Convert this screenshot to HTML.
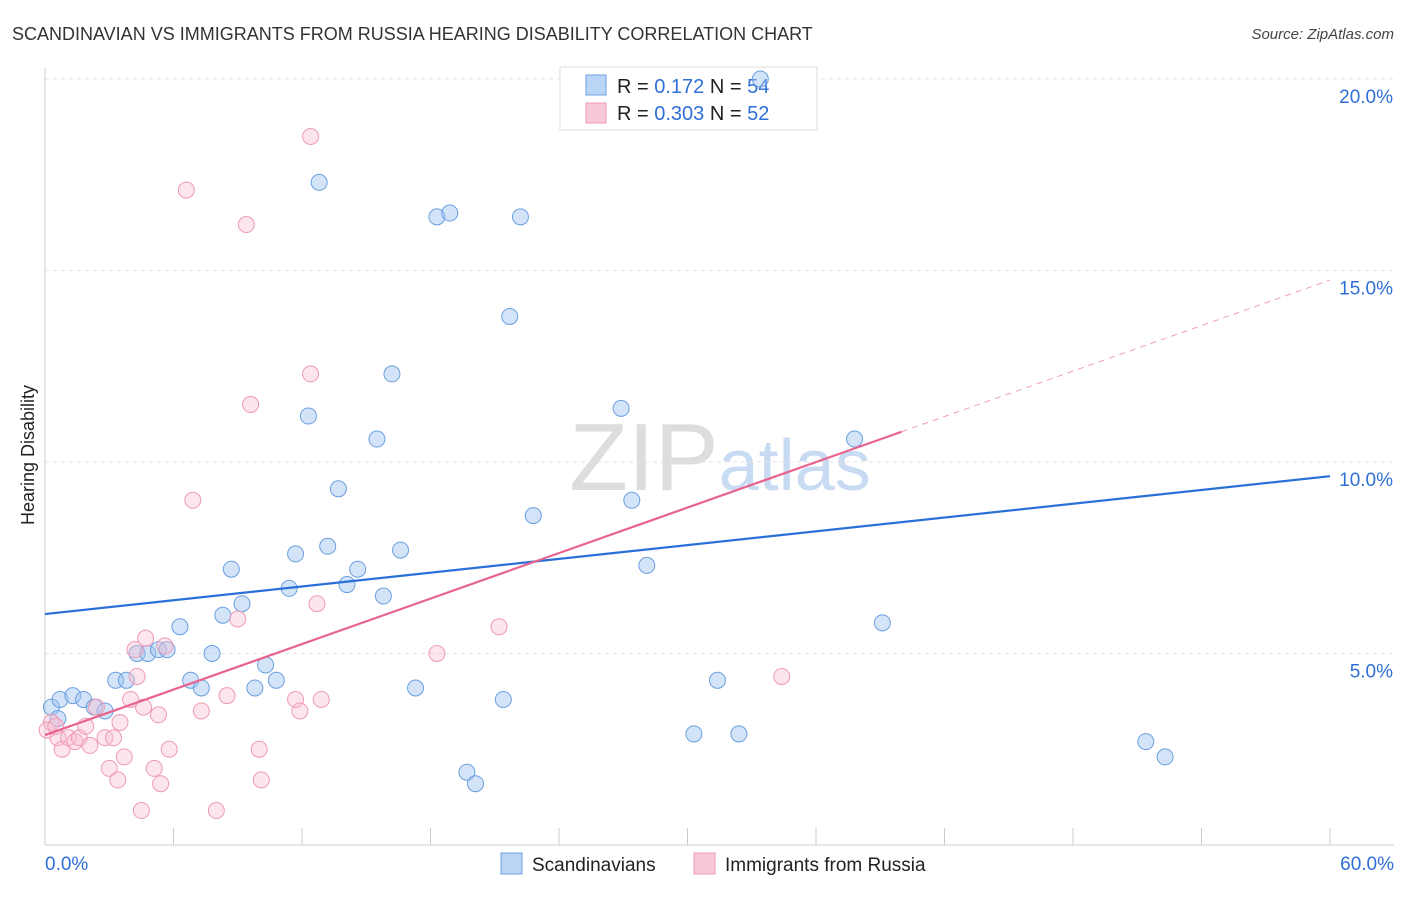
<!DOCTYPE html>
<html><head><meta charset="utf-8"><style>
body{margin:0;background:#fff;font-family:"Liberation Sans",sans-serif}
svg text{font-family:"Liberation Sans",sans-serif}
</style></head><body>
<svg id="c" width="1406" height="892" xmlns="http://www.w3.org/2000/svg">
<text x="12" y="40" font-size="18" fill="#333">SCANDINAVIAN VS IMMIGRANTS FROM RUSSIA HEARING DISABILITY CORRELATION CHART</text>
<text x="1394" y="39" font-size="15" fill="#444" text-anchor="end" font-style="italic">Source: ZipAtlas.com</text>
<text x="720" y="490" font-size="96" fill="#ddd" text-anchor="middle" font-family="Liberation Serif">ZIP<tspan fill="#c9dbf2" font-family="Liberation Sans" font-size="72">atlas</tspan></text>
<text transform="translate(34,455) rotate(-90)" font-size="18" fill="#222" text-anchor="middle">Hearing Disability</text>
<g id="grid"></g>
<g>
<rect x="560" y="67" width="257" height="63" fill="#fff" stroke="#ddd"/>
<rect x="586" y="75" width="20" height="20" fill="#b9d4f5" stroke="#6a9fe0"/>
<rect x="586" y="103" width="20" height="20" fill="#f9c8d8" stroke="#ee9ab5"/>
<text x="617" y="93" font-size="20" fill="#222">R = <tspan fill="#2f6fd6"> 0.172</tspan>   N = <tspan fill="#2f6fd6">54</tspan></text>
<text x="617" y="120" font-size="20" fill="#222">R = <tspan fill="#2f6fd6">0.303</tspan>   N = <tspan fill="#2f6fd6">52</tspan></text>
</g>
<g id="marks"></g>
<g>
<rect x="501" y="853" width="21" height="21" fill="#b9d4f5" stroke="#6a9fe0"/>
<text x="532" y="871" font-size="19" fill="#222">Scandinavians</text>
<rect x="694" y="853" width="21" height="21" fill="#f9c8d8" stroke="#ee9ab5"/>
<text x="725" y="871" font-size="19" fill="#222">Immigrants from Russia</text>
</g>
</svg>
<script>
const xTicks=[0,60];
const yTicks=[5,10,15,20];
const blueX=[0.3,0.7,1.3,1.8,0.6,2.3,2.8,3.3,3.8,4.3,4.8,5.3,5.7,6.3,6.8,7.3,7.8,8.3,8.7,9.2,9.8,10.3,10.8,11.4,11.7,12.3,12.8,13.2,13.7,14.1,14.6,15.5,15.8,16.2,16.6,17.3,18.3,18.9,19.7,20.1,21.4,21.7,22.2,22.8,26.9,27.4,28.1,30.3,31.4,32.4,33.4,37.8,39.1,51.4,52.3];
const blueY=[3.6,3.8,3.9,3.8,3.3,3.6,3.5,4.3,4.3,5.0,5.0,5.1,5.1,5.7,4.3,4.1,5.0,6.0,7.2,6.3,4.1,4.7,4.3,6.7,7.6,11.2,17.3,7.8,9.3,6.8,7.2,10.6,6.5,12.3,7.7,4.1,16.4,16.5,1.9,1.6,3.8,13.8,16.4,8.6,11.4,9.0,7.3,2.9,4.3,2.9,20.0,10.6,5.8,2.7,2.3];
const pinkX=[0.3,0.6,0.8,1.1,1.4,1.6,1.9,2.1,2.4,2.8,3.0,3.2,3.4,3.5,3.7,4.0,4.2,4.3,4.5,4.6,4.7,5.1,5.3,5.4,5.6,5.8,6.6,6.9,7.3,8.0,8.5,9.0,9.4,9.6,10.0,10.1,11.7,11.9,12.4,12.4,12.7,12.9,18.3,21.2,34.4,0.1,0.5];
const pinkY=[3.2,2.8,2.5,2.8,2.7,2.8,3.1,2.6,3.6,2.8,2.0,2.8,1.7,3.2,2.3,3.8,5.1,4.4,0.9,3.6,5.4,2.0,3.4,1.6,5.2,2.5,17.1,9.0,3.5,0.9,3.9,5.9,16.2,11.5,2.5,1.7,3.8,3.5,18.5,12.3,6.3,3.8,5.0,5.7,4.4,3.0,3.1];
const blueFit=[6.03,9.63];
const pinkFit=[2.87,14.75];
const X=v=>45+v*(1285/60), Y=v=>845-v*38.3;
const NS="http://www.w3.org/2000/svg";
function mk(p,t,a){const e=document.createElementNS(NS,t);for(const k in a)e.setAttribute(k,a[k]);p.appendChild(e);return e;}
const g=document.getElementById('grid'),m=document.getElementById('marks');
yTicks.forEach(v=>{const l=mk(g,'line',{x1:45,x2:1394,y1:Y(v),y2:Y(v),stroke:'#e3e3e3','stroke-dasharray':'4,4'});


const t=mk(g,'text',{x:1393,y:Y(v)+24,'font-size':19,fill:'#2f6fd6','text-anchor':'end'});t.textContent=v.toFixed(1)+'%';

});
mk(g,'line',{x1:45,x2:45,y1:68,y2:845,stroke:'#ccc'});
mk(g,'line',{x1:45,x2:1394,y1:845,y2:845,stroke:'#ccc'});
for(let i=0;i<=10;i++){mk(g,'line',{x1:X(i*6),x2:X(i*6),y1:828,y2:845,stroke:'#ccc'});}
xTicks.forEach((v,i)=>{const t=mk(g,'text',{x:i?1394:45,y:870,'font-size':19,fill:'#2f6fd6','text-anchor':i?'end':'start'});t.textContent=v.toFixed(1)+'%';

});
blueX.forEach((x,i)=>{const c=mk(m,'circle',{cx:X(x),cy:Y(blueY[i]),r:8,fill:'rgba(160,196,240,0.45)',stroke:'#6a9fe0','stroke-width':1});

});
pinkX.forEach((x,i)=>{const c=mk(m,'circle',{cx:X(x),cy:Y(pinkY[i]),r:8,fill:'rgba(248,190,210,0.4)',stroke:'#ee9ab5','stroke-width':1});

});
const b=mk(m,'line',{x1:X(0),y1:Y(blueFit[0]),x2:X(60),y2:Y(blueFit[1]),stroke:'#2a6fd8','stroke-width':2.2});


const pe=40,py=pinkFit[0]+(pinkFit[1]-pinkFit[0])*pe/60;
const p=mk(m,'line',{x1:X(0),y1:Y(pinkFit[0]),x2:X(pe),y2:Y(py),stroke:'#e8648f','stroke-width':2.2});


const pd=mk(m,'line',{x1:X(pe),y1:Y(py),x2:X(60),y2:Y(pinkFit[1]),stroke:'#eea0b8','stroke-width':1,'stroke-dasharray':'6,5'});


</script>
</body></html>
